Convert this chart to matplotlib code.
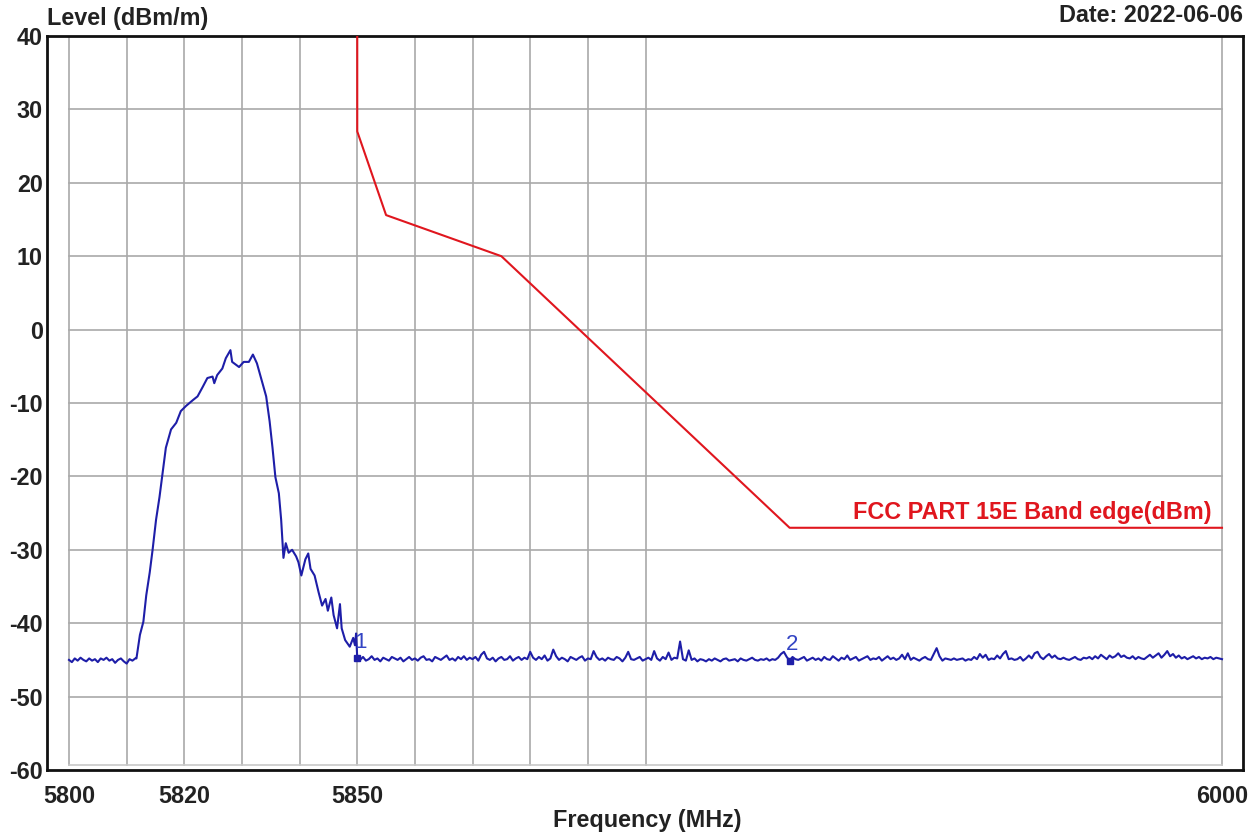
import numpy as np
import matplotlib
matplotlib.use("Agg")
import matplotlib.pyplot as plt

plt.rcParams['font.family'] = ['Liberation Sans', 'DejaVu Sans']

# ---------------- data ----------------
# noise floor below the carrier (5800 .. 5811.5 MHz, 0.5 MHz sweep)
low_noise_level = [-45.0, -45.3, -44.8, -45.1, -44.7, -45.0, -45.2, -44.8, -45.1, -44.9,
                   -45.3, -44.8, -45.0, -44.7, -45.1, -44.9, -45.4, -45.0, -44.8, -45.2,
                   -45.5, -44.9, -45.1, -44.8]
low_noise_start, low_noise_step = 5800.0, 0.5

# carrier / roll-off (read point by point)
sig_freq = [5811.7, 5812.3, 5812.9, 5813.4, 5814.0, 5814.5, 5815.1, 5815.7, 5816.3, 5816.8,
            5817.7, 5818.6, 5819.4, 5820.3, 5821.5, 5822.3, 5823.2, 5824.0, 5824.9, 5825.2,
            5825.7, 5826.6, 5827.2, 5828.0, 5828.3, 5829.5, 5830.3, 5831.2, 5831.9, 5832.6,
            5833.5, 5834.2, 5834.8, 5835.3, 5835.8, 5836.4, 5836.8, 5837.2, 5837.6, 5838.1,
            5838.7, 5839.4, 5839.8, 5840.3, 5841.0, 5841.5, 5841.9, 5842.6, 5843.3, 5843.9,
            5844.5, 5844.9, 5845.5, 5845.9, 5846.5, 5847.0, 5847.3, 5847.9, 5848.7, 5849.3,
            5849.6, 5849.8]
sig_level = [-44.8, -41.6, -39.8, -36.2, -33.1, -30.0, -25.9, -22.8, -19.2, -16.1,
             -13.6, -12.7, -11.1, -10.4, -9.6, -9.1, -7.8, -6.6, -6.4, -7.3,
             -6.2, -5.3, -3.9, -2.8, -4.4, -5.1, -4.4, -4.4, -3.4, -4.6,
             -7.1, -9.1, -12.5, -16.1, -20.1, -22.3, -25.9, -31.1, -29.1, -30.4,
             -30.0, -30.9, -31.7, -33.5, -31.3, -30.5, -32.6, -33.5, -35.8, -37.6,
             -36.7, -38.3, -36.5, -38.9, -40.7, -37.4, -40.7, -42.3, -43.2, -42.0,
             -43.0, -41.4]

# noise floor above the band edge (5850 .. 6000 MHz, 0.5 MHz sweep)
high_noise_level = [
    -44.8, -45.0, -44.6, -45.1, -44.9, -44.5, -45.0, -44.8, -45.2, -44.7, -44.9, -45.1, -44.6, -44.8, -45.0, -44.7, -45.2, -44.9, -44.6, -45.0,
    -44.8, -45.1, -44.7, -44.5, -45.0, -44.9, -45.2, -44.6, -44.8, -45.0, -44.7, -44.4, -45.0, -44.8, -45.1, -44.6, -44.9, -44.5, -45.0, -44.7,
    -44.9, -44.6, -45.1, -44.3, -43.9, -44.8, -45.0, -44.7, -45.2, -44.8, -44.6, -45.0, -44.9, -44.5, -45.1, -44.8, -44.6, -45.0, -44.7, -44.9,
    -43.9, -44.7, -45.0, -44.6, -44.9, -44.4, -45.1, -44.8, -43.6, -44.5, -45.0, -44.7, -44.9, -45.2, -44.6, -44.8, -45.0, -44.7, -44.5, -45.1,
    -44.8, -44.9, -43.8, -44.6, -45.0, -44.8, -45.1, -44.7, -44.9, -45.0, -44.6, -44.8, -45.2, -44.7, -43.9, -44.9, -45.0, -44.8, -44.6, -45.1,
    -44.9, -44.7, -45.0, -43.8, -44.8, -45.1, -44.6, -44.9, -44.0, -45.0, -44.7, -44.8, -42.5, -44.9, -45.1, -43.7, -45.0, -44.8, -45.2, -44.9,
    -45.0, -45.2, -44.9, -45.1, -44.8, -45.0, -45.2, -44.9, -44.8, -45.1, -45.0, -44.9, -45.2, -44.8, -45.0, -45.1, -44.9, -44.7, -45.0, -45.1,
    -44.9, -45.0, -44.8, -45.1, -44.9, -45.0, -44.7, -44.2, -43.9, -44.6, -45.1, -44.6, -44.9, -45.0, -44.8, -44.6, -45.1, -44.9, -44.7, -45.0,
    -44.8, -45.1, -44.6, -44.9, -45.0, -44.5, -44.8, -45.1, -44.7, -44.9, -44.4, -45.0, -44.8, -44.6, -45.1, -44.9, -44.7, -44.5, -45.0, -44.8,
    -44.9, -44.6, -45.1, -44.8, -44.5, -44.9, -44.7, -45.0, -44.8, -44.3, -44.9, -44.1, -45.0, -44.7, -44.9, -45.1, -44.8, -44.6, -44.9, -45.0,
    -44.2, -43.4, -44.5, -45.1, -44.8, -44.9, -45.0, -44.8, -45.0, -44.9, -44.8, -45.1, -44.9, -45.0, -44.6, -44.9, -44.2, -44.7, -44.3, -45.0,
    -44.8, -44.9, -44.4, -44.8, -44.2, -43.8, -44.9, -44.8, -45.0, -44.9, -44.6, -45.1, -44.8, -44.4, -44.8, -44.1, -43.9, -44.6, -44.9, -44.5,
    -44.2, -44.7, -44.4, -44.8, -44.9, -44.7, -44.9, -45.0, -44.8, -44.6, -44.9, -45.0, -44.7, -44.8, -44.6, -44.9, -44.5, -44.8, -44.3, -44.6,
    -44.9, -44.4, -44.7, -44.5, -44.1, -44.6, -44.4, -44.7, -44.8, -44.5, -44.9, -44.6, -44.8, -44.9, -44.6, -44.3, -44.7, -44.4, -44.1, -44.7,
    -44.3, -43.8, -44.5, -44.2, -44.7, -44.4, -44.8, -44.6, -44.9, -44.7, -44.5, -44.8, -44.6, -44.9, -44.7, -44.8, -44.6, -44.9, -44.7, -44.8,
    -44.9]
high_noise_start, high_noise_step = 5850.0, 0.5

# FCC Part 15E band-edge limit
limit_freq = [5850, 5850, 5855, 5875, 5925, 6000]
limit_level = [40, 27, 15.6, 10, -27, -27]
limit_label = "FCC PART 15E Band edge(dBm)"

# markers
marker_freq = [5850, 5925]
marker_level = [-44.8, -45.1]
marker_names = ["1", "2"]

x_ticks = [5800, 5820, 5850, 6000]
x_grid = [5800, 5810, 5820, 5830, 5840, 5850, 5860, 5870, 5880, 5890, 5900, 6000]
y_ticks = [40, 30, 20, 10, 0, -10, -20, -30, -40, -50, -60]

# ---------------- build trace ----------------
low_freq = low_noise_start + low_noise_step * np.arange(len(low_noise_level))
high_freq = high_noise_start + high_noise_step * np.arange(len(high_noise_level))
trace_freq = np.concatenate([low_freq, sig_freq, high_freq])
trace_level = np.concatenate([low_noise_level, sig_level, high_noise_level])

# ---------------- figure ----------------
W, H = 1260, 836
fig = plt.figure(figsize=(W / 100, H / 100), dpi=100)
L, R, T, B = 47, 1243, 36, 770
ax = fig.add_axes([L / W, 1 - B / H, (R - L) / W, (B - T) / H])

px_per_mhz = (1222 - 69) / 200.0
ax.set_xlim(5800 - (69 - L) / px_per_mhz, 6000 + (R - 1222) / px_per_mhz)
ax.set_ylim(-60, 40)

grid_c = '#a9a9a9'
y_bottom_grid = -59.3
for g in x_grid:
    ax.plot([g, g], [y_bottom_grid, 40], color=grid_c, lw=1.2, zorder=1)
for g in y_ticks[1:-1]:
    ax.plot([5800, 6000], [g, g], color=grid_c, lw=1.2, zorder=1)
ax.plot([5800, 6000], [y_bottom_grid, y_bottom_grid], color='#c8c8c8', lw=1.2, zorder=1)

red = '#e0161e'
blue = '#1e1ea8'
fs = 16.8
ax.plot(limit_freq, limit_level, color=red, lw=1.5, zorder=3)
ax.text(5998.2, -26.5, limit_label, color=red, fontsize=fs, fontweight='bold',
        ha='right', va='bottom', zorder=4)

ax.plot(trace_freq, trace_level, color=blue, lw=1.5, zorder=4)
ax.plot(marker_freq, marker_level, 's', color=blue, ms=4, zorder=5)
for f, lv, n in zip(marker_freq, marker_level, marker_names):
    ax.annotate(n, (f, lv), xytext=(2, 4), textcoords='offset points',
                color='#3344c4', fontsize=16, ha='center', va='bottom', zorder=6)

ax.set_xticks(x_ticks)
ax.set_xticklabels([str(v) for v in x_ticks])
ax.set_yticks(y_ticks)
ax.set_yticklabels([str(v) for v in y_ticks])
ax.tick_params(axis='both', length=0, labelsize=fs, colors='#222222')
ax.tick_params(axis='x', pad=11)
ax.tick_params(axis='y', pad=3)
for lab in ax.get_xticklabels() + ax.get_yticklabels():
    lab.set_fontweight('bold')

for s in ax.spines.values():
    s.set_linewidth(2)
    s.set_color('#111111')

fig.text(L / W, 1 - 18 / H, "Level (dBm/m)", fontsize=fs, fontweight='bold',
         ha='left', va='center', color='#222222')
fig.text(R / W, 1 - 15 / H, "Date: 2022-06-06", fontsize=fs, fontweight='bold',
         ha='right', va='center', color='#222222')
fig.text(647 / W, 1 - 820 / H, "Frequency (MHz)", fontsize=fs, fontweight='bold',
         ha='center', va='center', color='#222222')

fig.savefig("out.png", dpi=100)
